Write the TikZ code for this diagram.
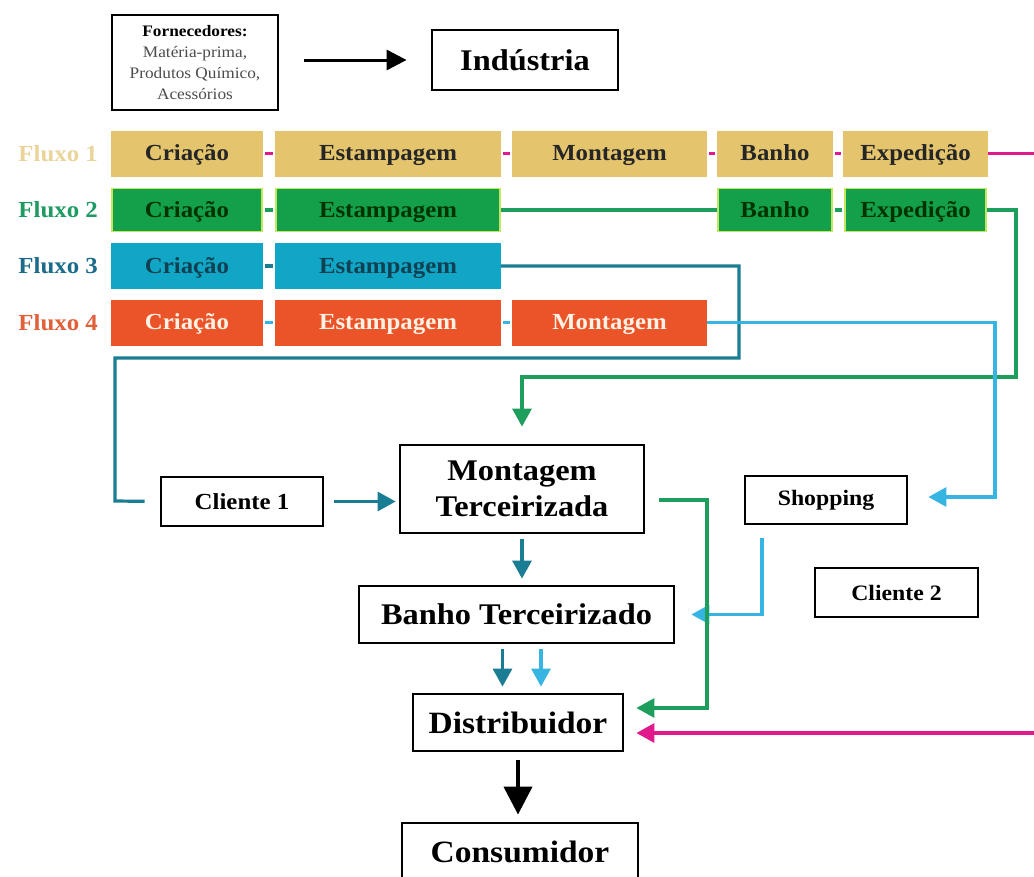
\documentclass[tikz,border=0pt]{standalone}
\usepackage{fontspec}
\setmainfont{Liberation Serif}[FakeStretch=1.08]
\usetikzlibrary{arrows.meta}

\definecolor{fluxoA}{HTML}{E4C46C}
\definecolor{fluxoB}{HTML}{14A04A}
\definecolor{fluxoC}{HTML}{12A6C6}
\definecolor{fluxoD}{HTML}{EA5428}
\definecolor{tagA}{HTML}{EBD49C}
\definecolor{tagB}{HTML}{1E9A62}
\definecolor{tagC}{HTML}{1B6C8A}
\definecolor{tagD}{HTML}{E0603A}
\definecolor{edgeB}{HTML}{C2E65C}
\definecolor{lnPink}{HTML}{E0198C}
\definecolor{lnGreen}{HTML}{1E9E5C}
\definecolor{lnTeal}{HTML}{1A7D94}
\definecolor{lnBlue}{HTML}{36B4E2}

\begin{document}
\begin{tikzpicture}[x=1pt, y=-1pt,
    every node/.style={inner sep=0pt, align=center},
    box/.style={draw=black, line width=2.8pt, fill=white,
                font=\bfseries\fontsize{30}{36}\selectfont},
    stage/.style={minimum height=46pt, text height=18pt, text depth=4pt,
                  font=\bfseries\fontsize{23}{26}\selectfont},
    fluxotag/.style={anchor=east, font=\bfseries\fontsize{23}{26}\selectfont},
    link/.style={line width=3.2pt},
    tip/.style={-{Triangle[length=18pt,width=19pt]}}]

            % page
            \useasboundingbox (0,0) rectangle (1034,876);
            \fill[white] (0,0) rectangle (1034,876);

            % suppliers and industry
            \node[box, minimum width=166, minimum height=95, font=\fontsize{16}{21}\selectfont, text=black!70] (forn) at (195,62.5)
                {\textbf{\color{black}Fornecedores:}\\Matéria-prima,\\Produtos Químico,\\Acessórios};
            \node[box, minimum width=186, minimum height=60] (ind) at (525,60) {Indústria};
            \draw[line width=3pt, -{Triangle[length=20pt,width=20pt]}, shorten <=25pt, shorten >=24pt]
                (forn.east |- ind.west) -- (ind.west);

            % flow labels
            \node[fluxotag, text=tagA] (f1) at (98,153.5) {Fluxo 1};
            \node[fluxotag, text=tagB] (f2) at (98,210) {Fluxo 2};
            \node[fluxotag, text=tagC] (f3) at (98,266) {Fluxo 3};
            \node[fluxotag, text=tagD] (f4) at (98,322.5) {Fluxo 4};

            % flow 1
            \node[stage, fill=fluxoA, text=black!85, minimum width=152] (c1) at (187,153.5) {Criação};
            \node[stage, fill=fluxoA, text=black!85, minimum width=226] (e1) at (388,153.5) {Estampagem};
            \node[stage, fill=fluxoA, text=black!85, minimum width=195] (m1) at (609.5,153.5) {Montagem};
            \node[stage, fill=fluxoA, text=black!85, minimum width=116] (b1) at (775,153.5) {Banho};
            \node[stage, fill=fluxoA, text=black!85, minimum width=145] (x1) at (915.5,153.5) {Expedição};

            % flow 2
            \node[stage, fill=fluxoB, draw=edgeB, line width=1.8pt, text=black!80!green, minimum width=150, minimum height=43] (c2) at (187,210) {Criação};
            \node[stage, fill=fluxoB, draw=edgeB, line width=1.8pt, text=black!80!green, minimum width=224, minimum height=43] (e2) at (388,210) {Estampagem};
            \node[stage, fill=fluxoB, draw=edgeB, line width=1.8pt, text=black!80!green, minimum width=114, minimum height=43] (b2) at (775,210) {Banho};
            \node[stage, fill=fluxoB, draw=edgeB, line width=1.8pt, text=black!80!green, minimum width=141, minimum height=43] (x2) at (915.5,210) {Expedição};

            % flow 3
            \node[stage, fill=fluxoC, text=tagC!60!black, minimum width=152] (c3) at (187,266) {Criação};
            \node[stage, fill=fluxoC, text=tagC!60!black, minimum width=226] (e3) at (388,266) {Estampagem};

            % flow 4
            \node[stage, fill=fluxoD, text=orange!10, minimum width=152] (c4) at (187,322.5) {Criação};
            \node[stage, fill=fluxoD, text=orange!10, minimum width=226] (e4) at (388,322.5) {Estampagem};
            \node[stage, fill=fluxoD, text=orange!10, minimum width=195] (m4) at (609.5,322.5) {Montagem};

            % lower chain
            \node[box, minimum width=244, minimum height=88] (mt) at (522,489) {Montagem\\Terceirizada};
            \node[box, minimum width=162, minimum height=49, font=\bfseries\fontsize{23}{26}\selectfont] (cli1) at (242,501.5) {Cliente 1};
            \node[box, minimum width=315, minimum height=57] (bt) at (516.5,614.5) {Banho Terceirizado};
            \node[box, minimum width=210, minimum height=57, font=\bfseries\fontsize{31}{36}\selectfont] (dist) at (518,722.5) {Distribuidor};
            \node[box, minimum width=236, minimum height=57, font=\bfseries\fontsize{31}{36}\selectfont] (cons) at (520,851.5) {Consumidor};
            \node[box, minimum width=162, minimum height=48, font=\bfseries\fontsize{22}{26}\selectfont] (shop) at (826,500) {Shopping};
            \node[box, minimum width=163, minimum height=49, font=\bfseries\fontsize{22}{26}\selectfont] (cli2) at (896.5,592.5) {Cliente 2};

            % bends of the long connectors
            \coordinate (p1) at (1045,733);
            \coordinate (g1) at (1016,377);
            \coordinate (t1) at (739,358);
            \coordinate (t2) at (115,501);
            \coordinate (s1) at (995,497);
            \coordinate (g2) at (707,708);

            % flow 1 connectors
            \draw[link, lnPink, line width=2.4pt, shorten <=2pt, shorten >=2pt] (c1) -- (e1);
            \draw[link, lnPink, line width=2.4pt, shorten <=2pt, shorten >=2pt] (e1) -- (m1);
            \draw[link, lnPink, line width=2.4pt, shorten <=2pt, shorten >=2pt] (m1) -- (b1);
            \draw[link, lnPink, line width=2.4pt, shorten <=2pt, shorten >=2pt] (b1) -- (x1);
            \draw[link, lnPink, tip, shorten >=12pt] (x1.east) -| (p1) -- ([yshift=-10.5pt]dist.east);

            % flow 2 connectors
            \draw[link, lnGreen, shorten <=2pt, shorten >=2pt] (c2) -- (e2);
            \draw[link, lnGreen] (e2) -- (b2);
            \draw[link, lnGreen, shorten <=2pt, shorten >=2pt] (b2) -- (x2);
            \draw[link, lnGreen, tip, shorten >=17pt] (x2.east) -| (g1) -| (mt.north);

            % flow 3 connectors
            \draw[link, lnTeal, shorten <=2pt, shorten >=2pt] (c3) -- (e3);
            \draw[link, lnTeal, shorten >=15pt] (e3.east) -| (t1) -| (t2) -- (cli1.west);
            \draw[link, lnTeal, tip, shorten <=10pt, shorten >=3pt] (cli1.east) -- (cli1.east -| mt.west);

            % flow 4 connectors
            \draw[link, lnBlue, line width=2.4pt, shorten <=2pt, shorten >=2pt] (c4) -- (e4);
            \draw[link, lnBlue, line width=2.4pt, shorten <=2pt, shorten >=2pt] (e4) -- (m4);
            \draw[link, lnBlue, tip, shorten >=20pt] (m4.east) -| (s1) -- (s1 -| shop.east);
            \draw[link, lnBlue, tip, shorten <=13pt, shorten >=16pt] ([xshift=-64pt]shop.south) |- (bt.east);

            % outsourced chain
            \draw[link, lnTeal, tip, shorten <=5pt, shorten >=6pt] (mt.south) -- (mt.south |- bt.north);
            \draw[link, lnGreen, tip, shorten <=14pt, shorten >=12pt] ([yshift=-11pt]mt.east) -| (g2) -- ([yshift=14.5pt]dist.east);
            \draw[link, lnTeal, tip, shorten <=5pt, shorten >=6pt] ([xshift=-14pt]bt.south) -- ([xshift=-14pt]bt.south |- dist.north);
            \draw[link, lnBlue, tip, shorten <=5pt, shorten >=6pt] ([xshift=24.5pt]bt.south) -- ([xshift=24.5pt]bt.south |- dist.north);
            \draw[line width=4pt, -{Triangle[length=28pt,width=28pt]}, shorten <=8pt, shorten >=7pt] (dist.south) -- (dist.south |- cons.north);
\end{tikzpicture}
\end{document}
